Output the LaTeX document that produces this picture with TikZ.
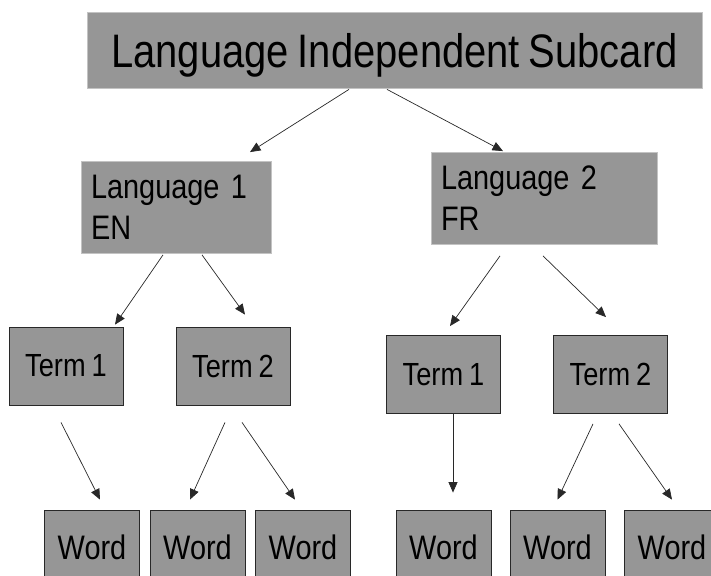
\documentclass[tikz,border=0pt]{standalone}
\usepackage{fontspec}
\setmainfont{Liberation Sans}[FakeStretch=0.85,WordSpace=0.8]
\usetikzlibrary{arrows.meta}
\usepackage{xcolor}
\definecolor{boxgray}{RGB}{150,150,150}
\definecolor{rimgray}{RGB}{195,195,195}
\definecolor{linedark}{RGB}{40,40,40}
\tikzset{
    card/.style={
        draw=#1,line width=0.8pt,fill=boxgray,inner sep=0pt,
        align=center,text=black
    },
    card/.default=linedark,
    langcard/.style={
        card=rimgray,inner xsep=10pt,align=left,
        minimum height=92pt,font=\fontsize{34}{41}\selectfont
    },
    termcard/.style={
        card,minimum width=114pt,minimum height=78pt,
        font=\fontsize{32}{36}\selectfont
    },
    wordcard/.style={
        card,minimum width=95pt,minimum height=75pt,
        font=\fontsize{34}{38}\selectfont
    },
    arrow/.style={
        -{Triangle[length=10.5pt,width=9pt]},line width=0.7pt,draw=linedark
    }
}

\begin{document}
\begin{tikzpicture}[x=1pt,y=1pt]

\useasboundingbox (0,0) rectangle (711,575);
\clip (0,0) rectangle (711,575);

\node[
card=rimgray,minimum width=615pt,minimum height=76pt,
font=\fontsize{47}{52}\selectfont,text depth=0pt
]
(sub) at (394.5,525) {Language Independent Subcard};

\node[langcard,text width=170pt] (en) at (176,367.5)
{Language 1\\EN};
\node[langcard,text width=206pt] (fr) at (544,376.5)
{Language 2\\FR};

\node[termcard] (enA) at (66,209) {Term 1};
\node[termcard] (enB) at (233,209) {Term 2};
\node[termcard] (frA) at (443.5,200.5) {Term 1};
\node[termcard] (frB) at (610.5,200.5) {Term 2};

\node[wordcard] (w1) at (92,27.5) {Word};
\node[wordcard] (w2) at (197.5,27.5) {Word};
\node[wordcard] (w3) at (303,27.5) {Word};
\node[wordcard] (w4) at (443.5,27.5) {Word};
\node[wordcard] (w5) at (557.5,27.5) {Word};
\node[wordcard] (w6) at (672,27.5) {Word};

\draw[arrow]([xshift=-45.5pt,yshift=-1pt]sub.south)--([xshift=74pt,yshift=9pt]en.north);
\draw[arrow]([xshift=-7.5pt,yshift=-1pt]sub.south)--([xshift=-41pt,yshift=1pt]fr.north);

\draw[arrow]([xshift=-13pt,yshift=-1pt]en.south)--([xshift=49pt,yshift=2pt]enA.north);
\draw[arrow]([xshift=26pt,yshift=-1pt]en.south)--([xshift=12pt,yshift=12pt]enB.north);
\draw[arrow]([xshift=-44pt,yshift=-11pt]fr.south)--([xshift=6.5pt,yshift=9pt]frA.north);
\draw[arrow]([xshift=-1pt,yshift=-11pt]fr.south)--([xshift=-4.5pt,yshift=18pt]frB.north);

\draw[arrow]([xshift=-5pt,yshift=-17pt]enA.south)--([xshift=8pt,yshift=10pt]w1.north);
\draw[arrow]([xshift=-8pt,yshift=-17pt]enB.south)--([xshift=-7.5pt,yshift=10pt]w2.north);
\draw[arrow]([xshift=9pt,yshift=-17pt]enB.south)--([xshift=-8pt,yshift=10pt]w3.north);
\draw[arrow]([xshift=9.5pt]frA.south)--([xshift=9.5pt,yshift=17pt]w4.north);
\draw[arrow]([xshift=-17.5pt,yshift=-10pt]frB.south)--([yshift=10pt]w5.north);
\draw[arrow]([xshift=8.5pt,yshift=-10pt]frB.south)--([yshift=10pt]w6.north);

\end{tikzpicture}
\end{document}
